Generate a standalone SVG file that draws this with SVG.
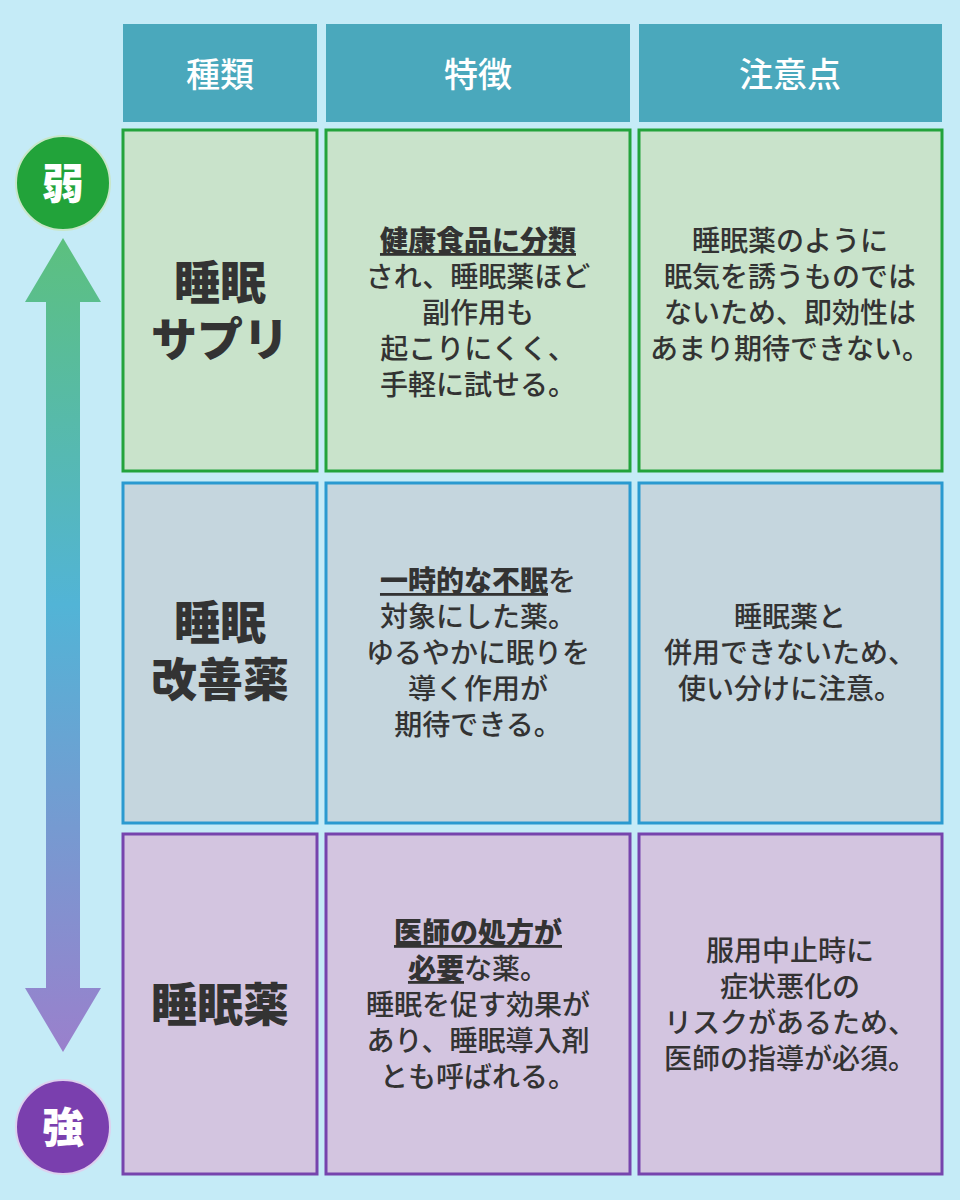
<svg xmlns="http://www.w3.org/2000/svg" width="960" height="1200" viewBox="0 0 960 1200">
<defs>
<linearGradient id="ag" x1="0" y1="0" x2="0" y2="1">
<stop offset="0" stop-color="#5cc07e"/><stop offset="0.45" stop-color="#52b4d6"/><stop offset="1" stop-color="#9a80cc"/>
</linearGradient>
<style>
text{font-family:"Noto Sans CJK JP",sans-serif;fill:#333;text-anchor:middle}
.h{fill:#fff;font-size:34px;font-weight:500}
.k{font-size:46px;font-weight:900}
.b{font-size:28px;font-weight:500}
.u{font-weight:900;text-decoration:underline}
.g{fill:#c9e3cb;stroke:#23a33c;stroke-width:3}
.c{fill:#c5d6de;stroke:#2a9ad0;stroke-width:3}
.p{fill:#d3c5e0;stroke:#7644ad;stroke-width:3}
.hd{fill:#4aa8bc}
</style>
</defs>
<rect width="960" height="1200" fill="#c5ebf7"/>
<g id="header">
<rect class="hd" x="123" y="24" width="194" height="98"/><text class="h" x="220" y="87">種類</text>
<rect class="hd" x="326" y="24" width="304" height="98"/><text class="h" x="478" y="87">特徴</text>
<rect class="hd" x="639" y="24" width="303" height="98"/><text class="h" x="790" y="87">注意点</text>
</g>
<g id="connectors">
<path d="M63,238 L101,302 L80,302 L80,988 L101,988 L63,1052 L25,988 L46,988 L46,302 L25,302 Z" fill="url(#ag)"/>
</g>
<g id="weak"><circle cx="63" cy="183" r="47" fill="#22a33a" stroke="#c8e6c9" stroke-width="2"/><text x="63" y="199" style="fill:#fff;font-size:42px;font-weight:900">弱</text></g>
<g id="strong"><circle cx="63" cy="1127" r="47" fill="#7a3fae" stroke="#ddd0ee" stroke-width="2"/><text x="63" y="1143" style="fill:#fff;font-size:42px;font-weight:900">強</text></g>
<g id="row1">
<rect class="g" x="123" y="130" width="194" height="341"/>
<text class="k" x="220" y="299">睡眠</text><text class="k" x="220" y="356">サプリ</text>
<rect class="g" x="326" y="130" width="304" height="341"/>
<text class="b" x="478" y="251"><tspan class="u">健康食品に分類</tspan></text>
<text class="b" x="478" y="287">され、睡眠薬ほど</text>
<text class="b" x="478" y="323">副作用も</text>
<text class="b" x="478" y="359">起こりにくく、</text>
<text class="b" x="478" y="395">手軽に試せる。</text>
<rect class="g" x="639" y="130" width="303" height="341"/>
<text class="b" x="790" y="251">睡眠薬のように</text>
<text class="b" x="790" y="287">眠気を誘うものでは</text>
<text class="b" x="790" y="323">ないため、即効性は</text>
<text class="b" x="790" y="359">あまり期待できない。</text>
</g>
<g id="row2">
<rect class="c" x="123" y="483" width="194" height="340"/>
<text class="k" x="220" y="639">睡眠</text><text class="k" x="220" y="696">改善薬</text>
<rect class="c" x="326" y="483" width="304" height="340"/>
<text class="b" x="478" y="591"><tspan class="u">一時的な不眠</tspan>を</text>
<text class="b" x="478" y="627">対象にした薬。</text>
<text class="b" x="478" y="663">ゆるやかに眠りを</text>
<text class="b" x="478" y="699">導く作用が</text>
<text class="b" x="478" y="735">期待できる。</text>
<rect class="c" x="639" y="483" width="303" height="340"/>
<text class="b" x="790" y="627">睡眠薬と</text>
<text class="b" x="790" y="663">併用できないため、</text>
<text class="b" x="790" y="699">使い分けに注意。</text>
</g>
<g id="row3">
<rect class="p" x="123" y="834" width="194" height="340"/>
<text class="k" x="220" y="1021">睡眠薬</text>
<rect class="p" x="326" y="834" width="304" height="340"/>
<text class="b" x="478" y="943"><tspan class="u">医師の処方が</tspan></text>
<text class="b" x="478" y="979"><tspan class="u">必要</tspan>な薬。</text>
<text class="b" x="478" y="1015">睡眠を促す効果が</text>
<text class="b" x="478" y="1051">あり、睡眠導入剤</text>
<text class="b" x="478" y="1087">とも呼ばれる。</text>
<rect class="p" x="639" y="834" width="303" height="340"/>
<text class="b" x="790" y="961">服用中止時に</text>
<text class="b" x="790" y="997">症状悪化の</text>
<text class="b" x="790" y="1033">リスクがあるため、</text>
<text class="b" x="790" y="1069">医師の指導が必須。</text>
</g>
</svg>
